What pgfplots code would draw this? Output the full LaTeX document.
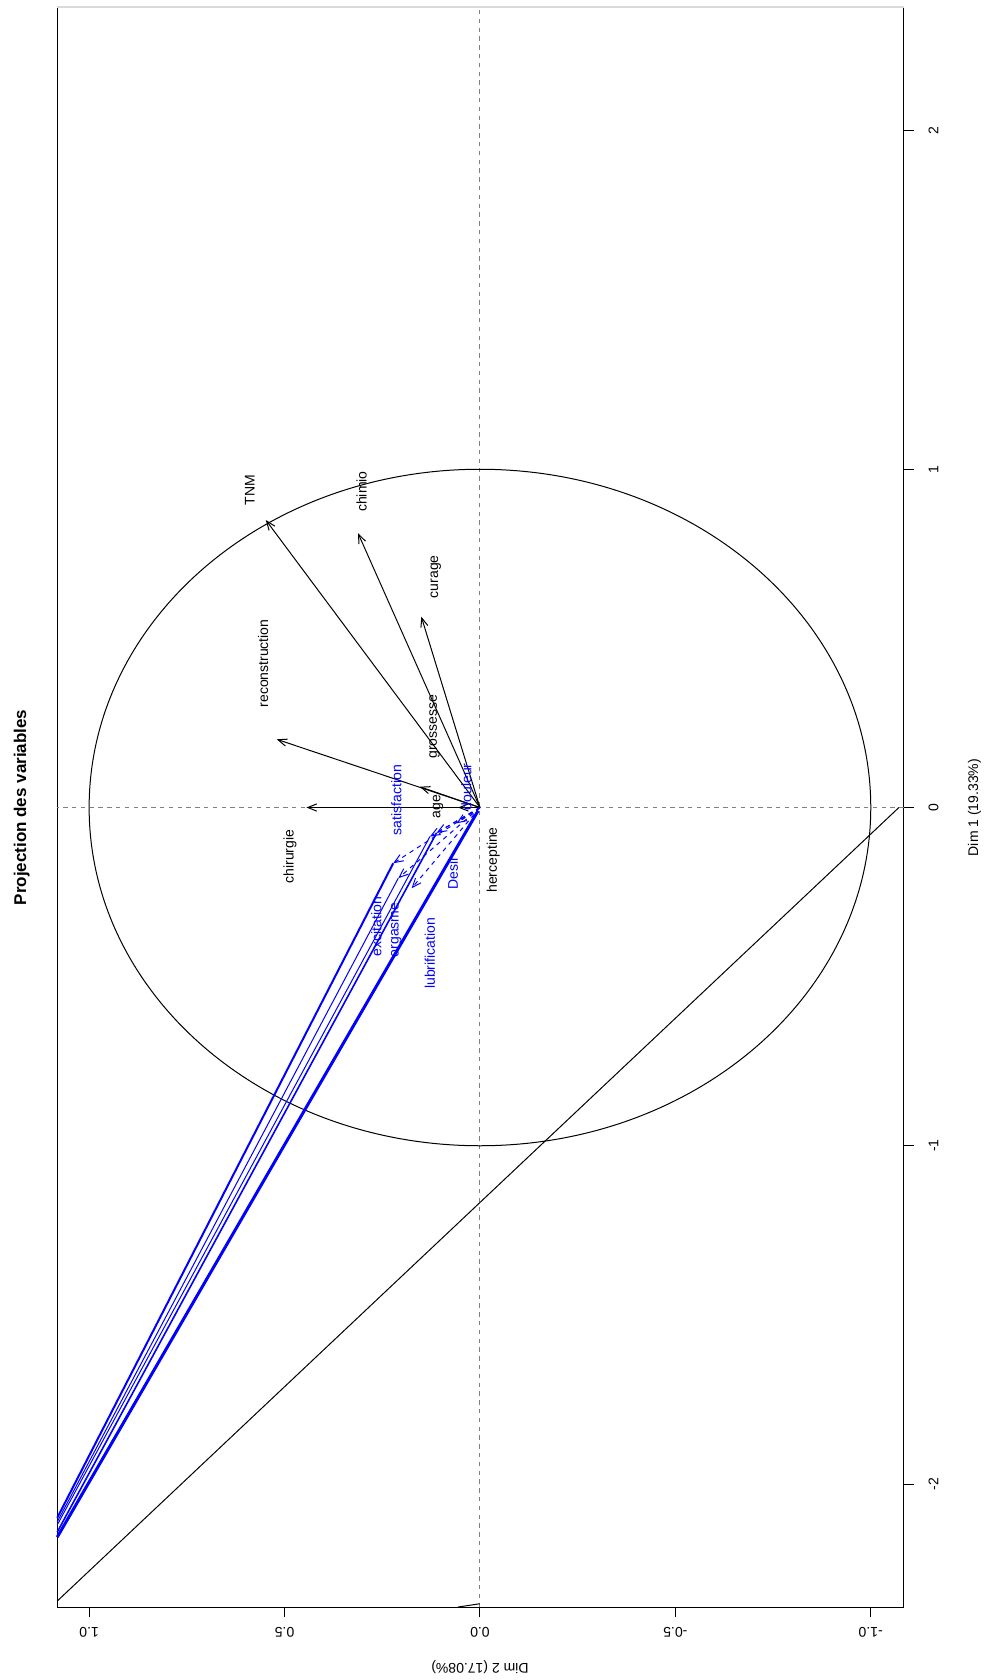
\documentclass[border=0pt]{standalone}
\usepackage{pgfplots}
\pgfplotsset{compat=1.18}
\usepackage{fontspec}
\setmainfont{Liberation Sans}
\usetikzlibrary{arrows.meta}
\definecolor{rblue}{RGB}{0,0,255}
\tikzset{
  lab/.style={font=\fontsize{7}{8}\selectfont, inner sep=0pt},
  ah/.style={-{Straight Barb[length=4.5pt,width=3.6pt]}},
  rdash/.style={dash pattern=on 2.2pt off 2.2pt},
}
\begin{document}
\begin{tikzpicture}
\begin{axis}[
  name=ax,
  scale only axis, width=423.2pt, height=800.1pt,
  x dir=reverse,
  xmin=-1.0839, xmax=1.0816, ymin=-2.3637, ymax=2.3666,
  clip=false,
  axis line style={line width=0.5pt, black},
  xtick={-1,-0.5,0,0.5,1}, ytick={-2,-1,0,1,2},
  xticklabel=\empty, yticklabel=\empty,
  xtick pos=lower, ytick pos=upper,
  tick align=outside, major tick length=5pt,
  tick style={line width=0.5pt, black},
  minor tick num=0,
]
% reference lines and unit circle
\draw[gray, line width=0.5pt, rdash] (axis cs:0,-2.3637) -- (axis cs:0,2.3666);
\draw[gray, line width=0.5pt, rdash] (axis cs:-1.0839,0) -- (axis cs:1.0816,0);
\draw[black, line width=0.5pt] (axis cs:0,0) ellipse [x radius=1, y radius=1];
\draw[gray!30, line width=0.6pt] (rel axis cs:0,1) -- (rel axis cs:1,1);

% stray black segments
\addplot[black, line width=0.5pt, mark=none] coordinates {(-1.072,0) (1.0816,-2.346)};
\addplot[black, line width=0.5pt, mark=none] coordinates {(0.056,-2.3637) (0.0005,-2.354)};

% active variables (black arrows)
\addplot[black, line width=0.5pt, mark=none, ah] coordinates {(0,0) (0.548,0.850)};
\addplot[black, line width=0.5pt, mark=none, ah] coordinates {(0,0) (0.312,0.811)};
\addplot[black, line width=0.5pt, mark=none, ah] coordinates {(0,0) (0.150,0.564)};
\addplot[black, line width=0.5pt, mark=none, ah] coordinates {(0,0) (0.520,0.2016)};
\addplot[black, line width=0.5pt, mark=none, ah] coordinates {(0,0) (0.154,0.0615)};
\addplot[black, line width=0.5pt, mark=none, ah] coordinates {(0,0) (0.056,0.0)};
\addplot[black, line width=0.5pt, mark=none, ah] coordinates {(0,0) (0.444,0.0)};

% supplementary variables (blue dashed arrows)
\addplot[rblue, line width=0.5pt, rdash, mark=none, ah] coordinates {(0,0) (0.222,-0.165)};
\addplot[rblue, line width=0.5pt, rdash, mark=none, ah] coordinates {(0,0) (0.209,-0.209)};
\addplot[rblue, line width=0.5pt, rdash, mark=none, ah] coordinates {(0,0) (0.175,-0.239)};
\addplot[rblue, line width=0.5pt, rdash, mark=none, ah] coordinates {(0,0) (0.128,-0.086)};
\addplot[rblue, line width=0.5pt, rdash, mark=none, ah] coordinates {(0,0) (0.111,-0.075)};
\addplot[rblue, line width=0.5pt, rdash, mark=none, ah] coordinates {(0,0) (0.060,-0.047)};

% long blue solid lines
\addplot[rblue, line width=1.0pt, mark=none] coordinates {(0.222,-0.165) (1.0816,-2.100)};
\addplot[rblue, line width=0.5pt, mark=none] coordinates {(0.209,-0.209) (1.0816,-2.112)};
\addplot[rblue, line width=0.5pt, mark=none] coordinates {(0.128,-0.086) (1.0816,-2.121)};
\addplot[rblue, line width=0.8pt, mark=none] coordinates {(0.111,-0.075) (1.0816,-2.142)};
\addplot[rblue, line width=1.5pt, mark=none] coordinates {(0.005,-0.010) (1.0816,-2.157)};

% variable labels
\node[lab, rotate=90] at (axis cs:0.589,0.939) {TNM};
\node[lab, rotate=90] at (axis cs:0.303,0.934) {chimio};
\node[lab, rotate=90] at (axis cs:0.113,0.682) {curage};
\node[lab, rotate=90] at (axis cs:0.555,0.426) {reconstruction};
\node[lab, rotate=90] at (axis cs:0.116,0.239) {grossesse};
\node[lab, rotate=90] at (axis cs:0.107,0.002) {age};
\node[lab, rotate=90] at (axis cs:0.486,-0.145) {chirurgie};
\node[lab, rotate=90] at (axis cs:-0.034,-0.155) {herceptine};
\node[lab, rotate=90, text=rblue] at (axis cs:0.214,0.022) {satisfaction};
\node[lab, rotate=90, text=rblue] at (axis cs:0.035,0.061) {douleur};
\node[lab, rotate=90, text=rblue] at (axis cs:0.069,-0.195) {Desir};
\node[lab, rotate=90, text=rblue] at (axis cs:0.265,-0.352) {excitation};
\node[lab, rotate=90, text=rblue] at (axis cs:0.214,-0.362) {orgasme};
\node[lab, rotate=90, text=rblue] at (axis cs:0.128,-0.431) {lubrification};

% tick labels
\node[lab, rotate=90] at (axis cs:-1.1606,2) {2};
\node[lab, rotate=90] at (axis cs:-1.1606,1) {1};
\node[lab, rotate=90] at (axis cs:-1.1606,0) {0};
\node[lab, rotate=90] at (axis cs:-1.1606,-1) {-1};
\node[lab, rotate=90] at (axis cs:-1.1606,-2) {-2};
\node[lab, rotate=180] at (axis cs:1,-2.4376) {1.0};
\node[lab, rotate=180] at (axis cs:0.5,-2.4376) {0.5};
\node[lab, rotate=180] at (axis cs:0,-2.4376) {0.0};
\node[lab, rotate=180] at (axis cs:-0.5,-2.4376) {-0.5};
\node[lab, rotate=180] at (axis cs:-1,-2.4376) {-1.0};

% axis titles and main title
\node[lab, rotate=90] at (axis cs:-1.2655,0) {Dim 1 (19.33\%)};
\node[lab, rotate=180] at (axis cs:0,-2.541) {Dim 2 (17.08\%)};
\node[font=\bfseries\fontsize{8.5}{10}\selectfont, inner sep=0pt, rotate=90] at (axis cs:1.1726,0) {Projection des variables};

\coordinate (bbA) at (axis cs:1.2281,2.3873);
\coordinate (bbB) at (axis cs:-1.3294,-2.5794);
\end{axis}
\pgfresetboundingbox
\path (bbA) rectangle (bbB);
\end{tikzpicture}
\end{document}
